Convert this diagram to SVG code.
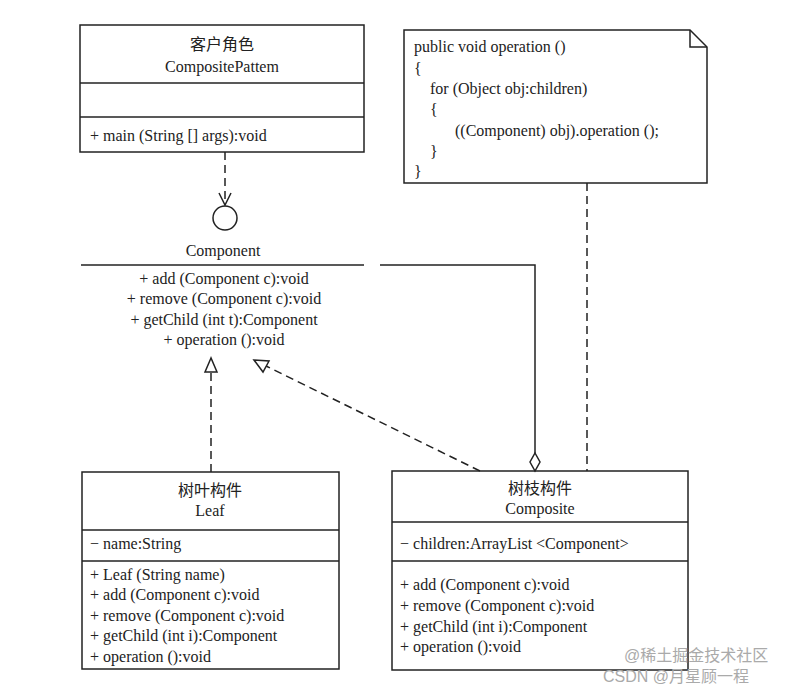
<svg xmlns="http://www.w3.org/2000/svg" width="789" height="689" viewBox="0 0 789 689">
<style>
.b{fill:#fff;stroke:#222;stroke-width:1.5}
.l{stroke:#222;stroke-width:1.5;fill:none}
.d{stroke:#222;stroke-width:1.5;fill:none;stroke-dasharray:8,5}
text{font-family:"Liberation Serif","Noto Sans CJK SC",serif;font-size:16px;fill:#222}
.c{text-anchor:middle}
.w{font-family:"Liberation Sans","Noto Sans CJK SC",sans-serif;font-size:16px;fill:#aaa}
</style>
<rect width="789" height="689" fill="#fff"/>
<g id="client">
<rect class="b" x="80" y="25" width="284" height="127"/>
<line class="l" x1="80" y1="83" x2="364" y2="83"/>
<line class="l" x1="80" y1="117" x2="364" y2="117"/>
<text class="c" x="222" y="50">客户角色</text>
<text class="c" x="222" y="72">CompositePattem</text>
<text x="90" y="141">+ main (String [] args):void</text>
</g>
<g id="note">
<path class="b" d="M404,30 H690 L707,47 V183 H404 Z"/>
<path class="l" d="M690,30 V47 H707"/>
<text x="414" y="52">public void operation ()</text>
<text x="414" y="74">{</text>
<text x="430" y="94">for (Object obj:children)</text>
<text x="430" y="115">{</text>
<text x="455" y="136">((Component) obj).operation ();</text>
<text x="430" y="157">}</text>
<text x="414" y="177">}</text>
</g>
<g id="component">
<circle class="b" cx="225" cy="218" r="12"/>
<text class="c" x="223" y="256">Component</text>
<line class="l" x1="81" y1="265" x2="364" y2="265"/>
<text class="c" x="224" y="284">+ add (Component c):void</text>
<text class="c" x="224" y="304">+ remove (Component c):void</text>
<text class="c" x="224" y="325">+ getChild (int t):Component</text>
<text class="c" x="224" y="345">+ operation ():void</text>
</g>
<g id="leaf">
<rect class="b" x="82" y="472" width="257" height="197"/>
<line class="l" x1="82" y1="530" x2="339" y2="530"/>
<line class="l" x1="82" y1="561" x2="339" y2="561"/>
<text class="c" x="210" y="496">树叶构件</text>
<text class="c" x="210" y="516">Leaf</text>
<text x="90" y="549">− name:String</text>
<text x="90" y="580">+ Leaf (String name)</text>
<text x="90" y="600">+ add (Component c):void</text>
<text x="90" y="621">+ remove (Component c):void</text>
<text x="90" y="641">+ getChild (int i):Component</text>
<text x="90" y="662">+ operation ():void</text>
</g>
<g id="composite">
<rect class="b" x="392" y="471" width="296" height="199"/>
<line class="l" x1="392" y1="522" x2="688" y2="522"/>
<line class="l" x1="392" y1="561" x2="688" y2="561"/>
<text class="c" x="540" y="494">树枝构件</text>
<text class="c" x="540" y="514">Composite</text>
<text x="400" y="549">− children:ArrayList &lt;Component&gt;</text>
<text x="400" y="590">+ add (Component c):void</text>
<text x="400" y="611">+ remove (Component c):void</text>
<text x="400" y="632">+ getChild (int i):Component</text>
<text x="400" y="652">+ operation ():void</text>
</g>
<g id="connectors">
<line class="d" x1="225" y1="152" x2="225" y2="204"/>
<path class="l" d="M219,193 L225,205 L231,193"/>
<line class="d" x1="211" y1="472" x2="211" y2="372"/>
<path class="b" d="M211,358 L205,372 H217 Z"/>
<line class="d" x1="480" y1="471" x2="266" y2="366"/>
<path class="b" d="M254,360 L269,361 L263,372 Z"/>
<path class="l" d="M380,265 H535 V453"/>
<path class="b" d="M535,453 L540,462 L535,471 L530,462 Z"/>
<line class="d" x1="587" y1="183" x2="587" y2="471"/>
</g>
<text class="w" x="624" y="661">@稀土掘金技术社区</text>
<text class="w" x="603" y="682">CSDN @月星顾一程</text>
</svg>
